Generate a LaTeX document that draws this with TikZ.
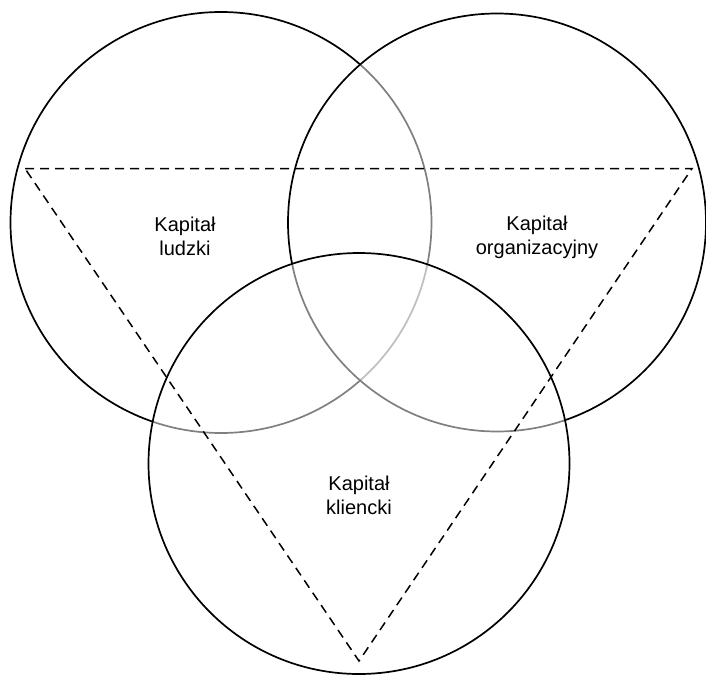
\documentclass[tikz,border=0pt]{standalone}
\usepackage{fontspec}
\setmainfont{Liberation Sans}
\begin{document}
\begin{tikzpicture}[x=1pt,y=-1pt,
  circ/.style={draw=black, line width=1.7pt, fill=white, fill opacity=0.5, draw opacity=1},
  tri/.style={draw=black, line width=1.5pt, dash pattern=on 9pt off 6pt},
  lbl/.style={align=center, font=\fontsize{20}{24}\selectfont, text=black}]
\useasboundingbox (0,0) rectangle (706,674);
\draw[circ] (221,222.5) circle (210.5);
\draw[circ] (497,222.5) circle (209);
\draw[circ] (359,463.5) circle (210.5);
\coordinate (A) at (25,168.5);
\coordinate (B) at (692,168.5);
\coordinate (C) at (359,661);
\draw[tri] (A) -- (B) -- (C) -- cycle;
\node[lbl] (ludzki) at (185,236) {Kapitał\\ludzki};
\node[lbl] (org) at (537,237) {Kapitał\\organizacyjny};
\node[lbl] (kl) at (359,495) {Kapitał\\kliencki};
\end{tikzpicture}
\end{document}
